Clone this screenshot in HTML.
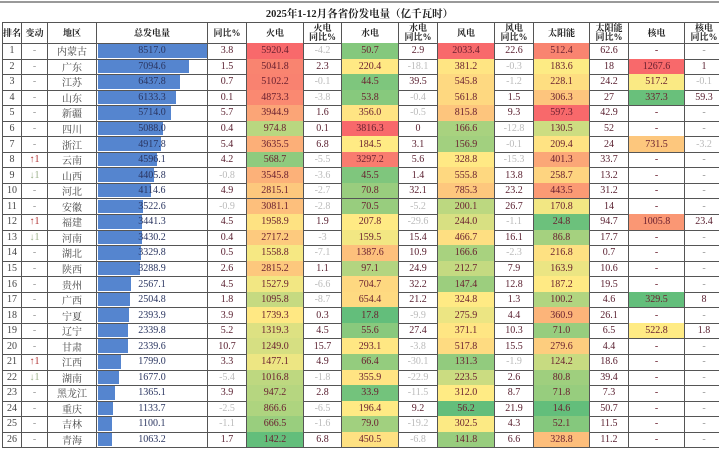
<!DOCTYPE html>
<html><head><meta charset="utf-8">
<style>
body{margin:0;width:719px;height:450px;overflow:hidden;background:#fff;font-family:"Liberation Serif","Noto Serif CJK SC",serif;}
#wrap{position:relative;width:719px;height:450px;}
.c{position:absolute;box-sizing:border-box;display:flex;align-items:center;justify-content:center;font-size:10px;color:#5a2030;border-right:1px solid #555;border-bottom:1px solid #555;white-space:nowrap;overflow:hidden;}
.h{font-weight:bold;color:#222;line-height:9px;text-align:center;font-size:9px;}
.neg{color:#bbb;}
.bar{position:absolute;background:#5585cf;}
</style></head><body>
<div id="wrap">
<div style="position:absolute;left:0;top:1px;width:719px;height:2px;background:#999"></div>
<div style="position:absolute;left:0;width:719px;top:6px;text-align:center;font-size:10.5px;font-weight:bold;color:#222">2025年1-12月各省份发电量（亿千瓦时）</div>
</div>
<script>
const headers=["排名","变动","地区","总发电量","同比%","火电","火电<br>同比%","水电","水电<br>同比%","风电","风电<br>同比%","太阳能","太阳能<br>同比%","核电","核电<br>同比%"];
const ranks=[1,2,3,4,5,6,7,8,9,10,11,12,13,14,15,16,17,18,19,20,21,22,23,24,25,26];
const changes=["-","-","-","-","-","-","-","↑1","↓1","-","-","↑1","↓1","-","-","-","-","-","-","-","↑1","↓1","-","-","-","-"];
const regions=["内蒙古","广东","江苏","山东","新疆","四川","浙江","云南","山西","河北","安徽","福建","河南","湖北","陕西","贵州","广西","宁夏","辽宁","甘肃","江西","湖南","黑龙江","重庆","吉林","青海"];
const total=[8517.0,7094.6,6437.8,6133.3,5714.0,5088.0,4917.8,4596.1,4405.8,4114.6,3522.6,3441.3,3430.2,3329.8,3288.9,2567.1,2504.8,2393.9,2339.8,2339.6,1799.0,1677.0,1365.1,1133.7,1100.1,1063.2];
const totalYoy=[3.8,1.5,0.7,0.1,5.7,0.4,5.4,4.2,-0.8,4.9,-0.9,4.5,0.4,0.5,2.6,4.5,1.8,3.9,5.2,10.7,3.3,-5.4,3.9,-2.5,-1.1,1.7];
const thermal=[5920.4,5041.8,5102.2,4873.3,3944.9,974.8,3635.5,568.7,3545.8,2815.1,3081.1,1958.9,2717.2,1558.8,2815.2,1527.9,1095.8,1739.3,1319.3,1249.0,1477.1,1016.8,947.2,866.6,666.5,142.2];
const thermalYoy=[-4.2,2.3,-0.1,-3.8,1.6,0.1,6.8,-5.5,-3.6,-2.7,-2.8,1.9,-3,-7.1,1.1,-6.6,-8.7,0.3,4.5,15.7,4.9,-1.8,2.8,-6.5,-1.6,6.8];
const hydro=[50.7,220.4,44.5,53.8,356.0,3816.3,184.5,3297.2,45.5,70.8,70.5,207.8,159.5,1387.6,97.1,704.7,654.4,17.8,55.6,293.1,66.4,355.9,33.9,196.4,79.0,450.5];
const hydroYoy=[2.9,-18.1,39.5,-0.4,-0.5,0,3.1,5.6,1.4,32.1,-5.2,-29.6,15.4,10.9,24.9,32.2,21.2,-9.9,27.4,-3.8,-30.1,-22.9,-11.5,9.2,-19.2,-6.8];
const wind=[2033.4,381.2,545.8,561.8,815.8,166.6,156.9,328.8,555.8,785.3,200.1,244.0,466.7,166.6,212.7,147.4,324.8,275.9,371.1,517.8,131.3,223.5,312.0,56.2,302.5,141.8];
const windYoy=[22.6,-0.3,-1.2,1.5,9.3,-12.8,-0.1,-15.3,13.8,23.2,26.7,-1.1,16.1,-2.3,7.9,12.8,1.3,4.4,10.3,15.5,-1.9,2.6,8.7,21.9,4.3,6.6];
const solar=[512.4,183.6,228.1,306.3,597.3,130.5,209.4,401.3,258.7,443.5,170.8,24.8,86.8,216.8,163.9,187.2,100.2,360.9,71.0,279.6,124.2,80.8,71.8,14.6,52.1,328.8];
const solarYoy=[62.6,18,24.2,27,42.9,52,24,33.7,13.2,31.2,14,94.7,17.7,0.7,10.6,19.5,4.6,26.1,6.5,4.4,18.6,39.4,7.3,50.7,11.5,11.2];
const nuclear=[null,1267.6,517.2,337.3,null,null,731.5,null,null,null,null,1005.8,null,null,null,null,329.5,null,522.8,null,null,null,null,null,null,null];
const nuclearYoy=[null,1,-0.1,59.3,null,null,-3.2,null,null,null,null,23.4,null,null,null,null,8,null,1.8,null,null,null,null,null,null,null];

const edges=[2,22,48,97,208,247,304,342,399,438,495,534,590,629,685,724];
const headTop=22,headH=21,rowH=15.55;
const wrap=document.getElementById('wrap');
const names=["rank","change","region","total","total-yoy","thermal","thermal-yoy","hydro","hydro-yoy","wind","wind-yoy","solar","solar-yoy","nuclear","nuclear-yoy"];

function lerp(a,b,t){return a.map((v,i)=>Math.round(v+(b[i]-v)*t));}
const R=[248,105,107],Y=[255,235,132],G=[99,190,123];
function scale(arr){
  const v=arr.filter(x=>x!=null).slice().sort((a,b)=>a-b);
  const mn=v[0],mx=v[v.length-1];
  const n=v.length,med=n%2?v[(n-1)/2]:(v[n/2-1]+v[n/2])/2;
  return x=>{
    if(x==null)return null;
    let c;
    if(x>=med)c=lerp(Y,R,mx===med?0:(x-med)/(mx-med));
    else c=lerp(G,Y,med===mn?0:(x-mn)/(med-mn));
    return 'rgb('+c.join(',')+')';
  };
}
const heat={5:scale(thermal),7:scale(hydro),9:scale(wind),11:scale(solar),13:scale(nuclear)};
const cols=[ranks,changes,regions,total,totalYoy,thermal,thermalYoy,hydro,hydroYoy,wind,windYoy,solar,solarYoy,nuclear,nuclearYoy];

for(let j=0;j<15;j++){
  const d=document.createElement('div');
  d.className='c h';
  
  
  d.style.left=edges[j]+'px';d.style.width=(edges[j+1]-edges[j])+'px';
  d.style.top=headTop+'px';d.style.height=(headH+1)+'px';
  d.style.borderTop='1px solid #555';
  if(j===0)d.style.borderLeft='1px solid #555';
  d.innerHTML=headers[j];
  wrap.appendChild(d);
}
const maxT=Math.max(...total);
for(let i=0;i<ranks.length;i++){
  const top=headTop+headH+i*rowH;
  for(let j=0;j<15;j++){
    const d=document.createElement('div');
    d.className='c';
    
    
    d.style.left=edges[j]+'px';d.style.width=(edges[j+1]-edges[j])+'px';
    d.style.top=top+'px';d.style.height=(rowH+1)+'px';
    if(j===0)d.style.borderLeft='1px solid #555';
    let v=cols[j][i];
    let txt;
    if(j===3||j===5||j===7||j===9||j===11||j===13)txt=v==null?'-':v.toFixed(1);
    else if(j>=4){txt=v==null?'-':String(v);if(v!=null&&v<0)d.classList.add('neg');}
    else txt=String(v);
    if(v==null){d.style.color='#999';}
    if(j<=2)d.style.color='#444';
    if(j===1){if(v.startsWith('↑'))d.style.color='#b03030';else if(v.startsWith('↓'))d.style.color='#9ab08a';else d.style.color='#999';}
    if(heat[j]){const bg=heat[j](v);if(bg)d.style.background=bg;d.style.color='#6a2030';}
    if(j===3){
      const b=document.createElement('div');
      b.className='bar';
      
      
      b.style.left='1px';b.style.top='1px';b.style.height=(rowH-2)+'px';
      b.style.width=(v/maxT*(edges[4]-edges[3]-2))+'px';
      d.appendChild(b);
      const s=document.createElement('span');
      s.style.position='relative';s.style.color='#2a3560';
      s.textContent=txt;d.appendChild(s);
    } else d.textContent=txt;
    wrap.appendChild(d);
  }
}
</script>
</body></html>
